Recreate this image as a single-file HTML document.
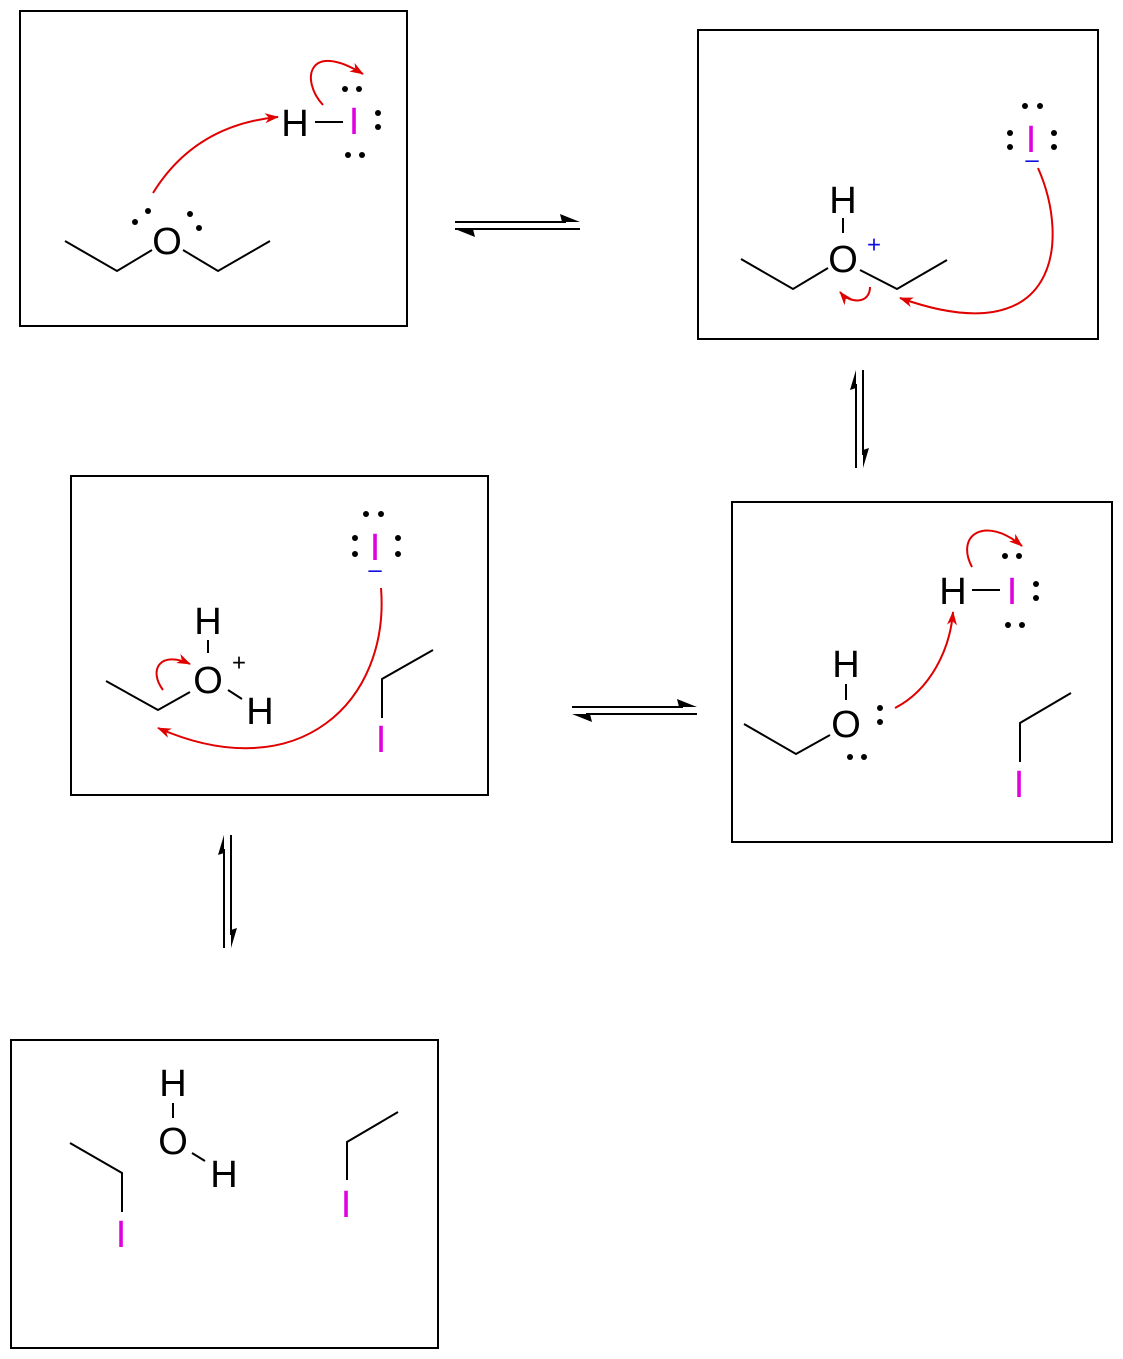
<!DOCTYPE html>
<html><head><meta charset="utf-8"><style>html,body{margin:0;padding:0;background:#fff}svg{display:block}
text{font-family:"Liberation Sans",sans-serif;font-size:38px;text-anchor:middle;dominant-baseline:central}
.m{fill:#e000e0}.b{fill:#1010e0;font-size:24px}</style></head><body>
<svg width="1123" height="1359" viewBox="0 0 1123 1359" xmlns="http://www.w3.org/2000/svg">
<defs><marker id="ah" markerWidth="14" markerHeight="10" refX="13" refY="5" orient="auto" markerUnits="userSpaceOnUse"><path d="M0,0 L14,5 L0,10 L4,5z" fill="#e00000"/></marker></defs>
<g fill="none" stroke="#000" stroke-width="2">
<rect x="20" y="11" width="387" height="315"/>
<rect x="698" y="30" width="400" height="309"/>
<rect x="71" y="476" width="417" height="319"/>
<rect x="732" y="502" width="380" height="340"/>
<rect x="11" y="1040" width="427" height="308"/>
<path d="M455,222 H566 M455,229 H580 M455,229 H580"/>
<path d="M572,707 H683 M586,714 H697"/>
<path d="M856,384 V468 M863,370 V455"/>
<path d="M224,849 V948 M231,835 V935"/>
<path d="M65,241 L117,271 L152,250 M183,250 L218,271 L270,241 M315,122 H343"/>
<path d="M741,259 L793,289 L828,268 M860,270 L897,289 L947,260 M843,218 V233"/>
<path d="M106,681 L158,710 L190,692 M208,640 V653 M228,690 L242,699 M433,650 L382,679 V718"/>
<path d="M744,724 L796,754 L830,735 M846,684 V700 M972,590 H1000 M1071,693 L1020,723 V762"/>
<path d="M70,1143 L122,1173 V1212 M173,1103 V1118 M192,1153 L205,1161 M398,1112 L347,1142 V1180"/>
</g>
<g fill="#000">
<path d="M580,222 L560,214 L562,222z"/><path d="M455,229 L475,237 L473,229z"/>
<path d="M697,707 L677,699 L679,707z"/><path d="M572,714 L592,722 L590,714z"/>
<path d="M856,370 L850,390 L856,388z"/><path d="M863,468 L869,448 L863,450z"/>
<path d="M224,835 L218,855 L224,853z"/><path d="M231,948 L237,928 L231,930z"/>
</g>
<g fill="none" stroke="#e00000" stroke-width="2" marker-end="url(#ah)">
<path d="M153,193 Q195,125 278,117"/>
<path d="M323,105 C300,80 308,40 363,74"/>
<path d="M1038,168 C1070,240 1060,355 900,298"/>
<path d="M870,287 C870,304 850,304 840,292"/>
<path d="M381,588 C390,700 300,790 158,728"/>
<path d="M163,690 C148,670 160,650 190,664"/>
<path d="M895,708 C930,690 950,650 953,612"/>
<path d="M972,567 C955,535 985,515 1022,546"/>
</g>
<g fill="#000">
<text x="167" y="242">O</text><text x="295" y="124">H</text><text class="m" x="354" y="122">I</text>
<circle cx="135" cy="222" r="3"/><circle cx="148" cy="211" r="3"/><circle cx="190" cy="214" r="3"/><circle cx="199" cy="228" r="3"/>
<circle cx="345" cy="89" r="3"/><circle cx="359" cy="89" r="3"/><circle cx="378" cy="113" r="3"/><circle cx="378" cy="127" r="3"/><circle cx="348" cy="155" r="3"/><circle cx="362" cy="155" r="3"/>
<text x="843" y="201">H</text><text x="843" y="260">O</text><text class="b" x="874" y="245">+</text>
<text class="m" x="1031" y="140">I</text><text class="b" x="1032" y="160">–</text>
<circle cx="1025" cy="106" r="3"/><circle cx="1040" cy="106" r="3"/><circle cx="1010" cy="133" r="3"/><circle cx="1010" cy="147" r="3"/><circle cx="1054" cy="133" r="3"/><circle cx="1054" cy="147" r="3"/>
<text x="208" y="622">H</text><text x="208" y="681">O</text><text x="239" y="663" style="font-size:24px">+</text><text x="260" y="712">H</text>
<text class="m" x="381" y="740">I</text><text class="m" x="375" y="548">I</text><text class="b" x="375" y="570">–</text>
<circle cx="366" cy="514" r="3"/><circle cx="381" cy="514" r="3"/><circle cx="355" cy="538" r="3"/><circle cx="355" cy="554" r="3"/><circle cx="398" cy="538" r="3"/><circle cx="398" cy="554" r="3"/>
<text x="953" y="592">H</text><text class="m" x="1012" y="592">I</text>
<circle cx="1005" cy="556" r="3"/><circle cx="1019" cy="556" r="3"/><circle cx="1036" cy="584" r="3"/><circle cx="1036" cy="598" r="3"/><circle cx="1008" cy="625" r="3"/><circle cx="1022" cy="625" r="3"/>
<text x="846" y="665">H</text><text x="846" y="725">O</text>
<circle cx="880" cy="708" r="3"/><circle cx="880" cy="722" r="3"/><circle cx="850" cy="757" r="3"/><circle cx="864" cy="757" r="3"/>
<text class="m" x="1019" y="785">I</text>
<text x="173" y="1084">H</text><text x="173" y="1142">O</text><text x="224" y="1175">H</text>
<text class="m" x="121" y="1235">I</text><text class="m" x="346" y="1205">I</text>
</g>
</svg></body></html>
